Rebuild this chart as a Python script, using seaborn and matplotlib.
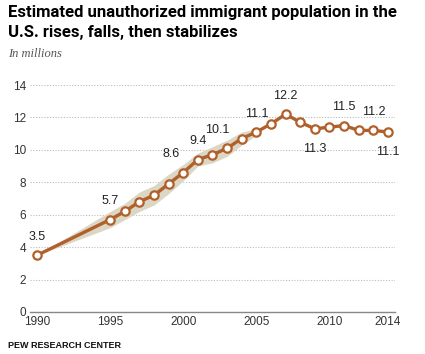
import pandas as pd
import seaborn as sns
import matplotlib.pyplot as plt

years = [1990, 1995, 1996, 1997, 1998, 1999, 2000, 2001, 2002, 2003, 2004,
         2005, 2006, 2007, 2008, 2009, 2010, 2011, 2012, 2013, 2014]
population = [3.5, 5.7, 6.2, 6.8, 7.2, 7.9, 8.6, 9.4, 9.7, 10.1, 10.7,
              11.1, 11.6, 12.2, 11.7, 11.3, 11.4, 11.5, 11.2, 11.2, 11.1]

# margin of error band (only shown through 2005)
band_years = [1990, 1995, 1996, 1997, 1998, 1999, 2000, 2001, 2002, 2003, 2004, 2005]
band_lo = [3.5, 5.2, 5.7, 6.2, 6.6, 7.3, 8.1, 9.0, 9.2, 9.6, 10.3, 10.9]
band_hi = [3.5, 6.2, 6.7, 7.4, 7.8, 8.5, 9.1, 9.8, 10.2, 10.6, 11.1, 11.3]

# labelled points: year -> (text, above?)
labels = {1990: ("3.5", True), 1995: ("5.7", True), 2000: ("8.6", True),
          2001: ("9.4", True), 2003: ("10.1", True), 2005: ("11.1", True),
          2007: ("12.2", True), 2009: ("11.3", False), 2011: ("11.5", True),
          2013: ("11.2", True), 2014: ("11.1", False)}
label_shift = {2000: -9, 2003: -7}

xticks = [1990, 1995, 2000, 2005, 2010, 2014]
yticks = [0, 2, 4, 6, 8, 10, 12, 14]

df = pd.DataFrame({"year": years, "pop": population})

sns.set_style("white")
plt.rcParams["font.family"] = ["Liberation Sans", "DejaVu Sans"]

brown = "#B0602A"
fig = plt.figure(figsize=(4.25, 3.54), dpi=100)
ax = fig.add_axes([30 / 425, 1 - 312 / 354, 365 / 425, 227 / 354])

ax.fill_between(band_years, band_lo, band_hi, color="#DCD6C4", lw=0, zorder=1)
sns.lineplot(data=df, x="year", y="pop", ax=ax, color=brown, lw=2.4,
             marker="o", markersize=6, markerfacecolor="white",
             markeredgecolor=brown, markeredgewidth=1.6, zorder=3, clip_on=False)

for yr, (txt, above) in labels.items():
    val = population[years.index(yr)]
    dy = 9 if above else -10
    ax.annotate(txt, (yr, val), xytext=(label_shift.get(yr, 0), dy),
                textcoords="offset points", ha="center",
                va="bottom" if above else "top", fontsize=9, color="#222222")

ax.set_xlim(1989.52, 2014.48)
ax.set_ylim(0, 14)
ax.set_xticks(xticks)
ax.set_yticks(yticks)
ax.tick_params(length=0, labelsize=8.5, colors="#333333", pad=3)
ax.set_xlabel("")
ax.set_ylabel("")
for y in yticks[1:]:
    ax.axhline(y, color="#bbbbbb", lw=0.8, ls=(0, (1, 1.5)), zorder=0)
for s in ["top", "right", "left"]:
    ax.spines[s].set_visible(False)
ax.spines["bottom"].set_color("#888888")
ax.spines["bottom"].set_linewidth(1)

fig.text(8 / 425, 1 - 5 / 354, "Estimated unauthorized immigrant population in the\nU.S. rises, falls, then stabilizes",
         ha="left", va="top", fontsize=12, fontweight="bold", linespacing=1.45,
         color="black", family=["Roboto", "DejaVu Sans"])
fig.text(8 / 425, 1 - 48 / 354, "In millions", ha="left", va="top", fontsize=9,
         style="italic", color="#555555", family=["Liberation Serif", "DejaVu Serif"])
fig.text(8 / 425, 1 - 341 / 354, "PEW RESEARCH CENTER", ha="left", va="top",
         fontsize=6.5, fontweight="bold", color="#111111")

fig.savefig("out.png", dpi=100)
